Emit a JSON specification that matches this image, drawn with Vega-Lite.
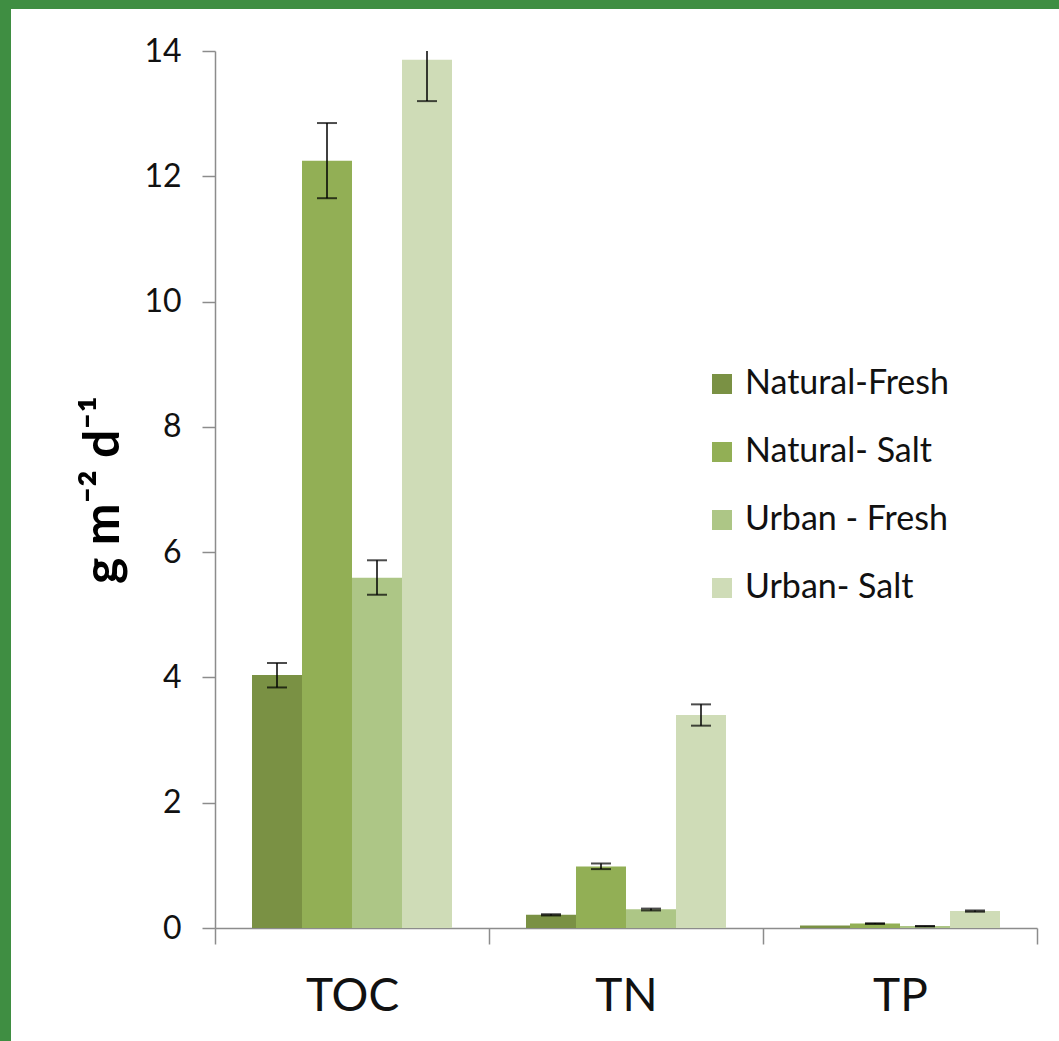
{
  "$schema": "https://vega.github.io/schema/vega-lite/v6.json",
  "autosize": "none",
  "width": 1048,
  "height": 1032,
  "padding": {"left": 11, "top": 9, "right": 0, "bottom": 0},
  "background": "#3F8E42",
  "config": {
    "view": {"fill": "white", "stroke": null},
    "font": "Lato"
  },
  "data": {
    "values": [
      {"cat": "TOC", "group": "Natural-Fresh", "value": 4.04, "lo": 3.84, "hi": 4.23},
      {"cat": "TOC", "group": "Natural- Salt", "value": 12.25, "lo": 11.65, "hi": 12.85},
      {"cat": "TOC", "group": "Urban - Fresh", "value": 5.59, "lo": 5.32, "hi": 5.87},
      {"cat": "TOC", "group": "Urban- Salt", "value": 13.86, "lo": 13.2, "hi": 14.52},
      {"cat": "TN", "group": "Natural-Fresh", "value": 0.21, "lo": 0.2, "hi": 0.22},
      {"cat": "TN", "group": "Natural- Salt", "value": 0.98, "lo": 0.94, "hi": 1.03},
      {"cat": "TN", "group": "Urban - Fresh", "value": 0.3, "lo": 0.28, "hi": 0.31},
      {"cat": "TN", "group": "Urban- Salt", "value": 3.4, "lo": 3.23, "hi": 3.57},
      {"cat": "TP", "group": "Natural-Fresh", "value": 0.04, "lo": null, "hi": null},
      {"cat": "TP", "group": "Natural- Salt", "value": 0.07, "lo": 0.065, "hi": 0.075},
      {"cat": "TP", "group": "Urban - Fresh", "value": 0.03, "lo": 0.025, "hi": 0.032},
      {"cat": "TP", "group": "Urban- Salt", "value": 0.27, "lo": 0.26, "hi": 0.28}
    ]
  },
  "encoding": {
    "x": {
      "field": "cat",
      "type": "nominal",
      "sort": ["TOC", "TN", "TP"],
      "scale": {"range": [204, 1026], "paddingInner": 0, "paddingOuter": 0},
      "axis": {
        "title": null,
        "orient": "bottom",
        "offset": -113,
        "domainColor": "#8c8c8c",
        "domainWidth": 1.5,
        "tickColor": "#8c8c8c",
        "tickWidth": 1.5,
        "tickSize": 16,
        "tickBand": "extent",
        "labelFont": "Lato",
        "labelFontSize": 46,
        "labelColor": "#111",
        "labelPadding": 30,
        "labelAngle": 0
      }
    },
    "xOffset": {
      "field": "group",
      "type": "nominal",
      "sort": ["Natural-Fresh", "Natural- Salt", "Urban - Fresh", "Urban- Salt"],
      "scale": {"paddingInner": 0, "paddingOuter": 0.74}
    }
  },
  "layer": [
    {
      "mark": {"type": "bar"},
      "encoding": {
        "y": {
          "field": "value",
          "type": "quantitative",
          "scale": {"domain": [0, 14], "range": [919, 42], "nice": false, "clamp": true},
          "axis": {
            "title": "g m⁻² d⁻¹",
            "orient": "left",
            "offset": -204,
            "values": [0, 2, 4, 6, 8, 10, 12, 14],
            "format": "d",
            "grid": false,
            "domainColor": "#8c8c8c",
            "domainWidth": 1.5,
            "tickColor": "#8c8c8c",
            "tickWidth": 1.5,
            "tickSize": 13,
            "labelFont": "Lato",
            "labelFontSize": 32,
            "labelColor": "#111",
            "labelPadding": 21,
            "titleFont": "Lato",
            "titleFontSize": 50,
            "titleFontWeight": "bold",
            "titleColor": "#000",
            "titlePadding": 15
          }
        },
        "color": {
          "field": "group",
          "type": "nominal",
          "sort": ["Natural-Fresh", "Natural- Salt", "Urban - Fresh", "Urban- Salt"],
          "scale": {
            "domain": ["Natural-Fresh", "Natural- Salt", "Urban - Fresh", "Urban- Salt"],
            "range": ["#7A9144", "#92AF55", "#ADC686", "#CFDCB7"]
          },
          "legend": {
            "title": null,
            "orient": "none",
            "legendX": 694,
            "legendY": 358,
            "padding": 0,
            "symbolType": "square",
            "symbolSize": 400,
            "symbolStrokeWidth": 0,
            "labelFont": "Lato",
            "labelFontSize": 34,
            "labelColor": "#111",
            "labelOffset": 6,
            "rowPadding": 34,
            "labelLimit": 400
          }
        }
      }
    },
    {
      "transform": [{"filter": "datum.lo != null"}],
      "mark": {"type": "rule", "color": "#000", "strokeWidth": 1.5},
      "encoding": {
        "y": {"field": "lo", "type": "quantitative"},
        "y2": {"field": "hi"}
      }
    },
    {
      "transform": [
        {"filter": "datum.lo != null"},
        {"fold": ["lo", "hi"], "as": ["end", "cap"]},
        {"filter": "datum.cap <= 14"}
      ],
      "mark": {"type": "tick", "color": "#000", "size": 20, "thickness": 2},
      "encoding": {
        "y": {"field": "cap", "type": "quantitative"}
      }
    }
  ]
}
